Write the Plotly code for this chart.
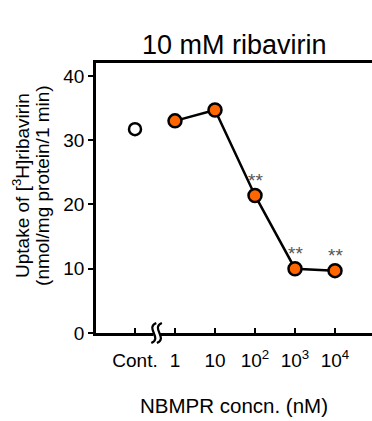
import plotly.graph_objects as go

categories = ["Cont.", "1", "10", "10<sup>2</sup>", "10<sup>3</sup>", "10<sup>4</sup>"]
control_value = [31.7]
nbmpr_values = [33.0, 34.7, 21.4, 10.0, 9.7]
significance = ["", "", "**", "**", "**"]
y_title_lines = ["Uptake of [<sup>3</sup>H]ribavirin", "(nmol/mg protein/1 min)"]

xpos_ctrl = [0]
xpos = [1, 2, 3, 4, 5]

FONT = "Liberation Sans, Arial, sans-serif"

fig = go.Figure()
fig.add_trace(go.Scatter(
    x=xpos_ctrl, y=control_value, mode="markers",
    marker=dict(size=12, color="white", line=dict(color="black", width=2.5)),
    showlegend=False, cliponaxis=False))
fig.add_trace(go.Scatter(
    x=xpos, y=nbmpr_values, mode="lines+markers",
    line=dict(color="black", width=2.5),
    marker=dict(size=13, color="#FF6600", line=dict(color="black", width=2.5)),
    showlegend=False, cliponaxis=False))

for x, y, s in zip(xpos, nbmpr_values, significance):
    if s:
        fig.add_annotation(x=x, y=y, text=s, showarrow=False, yshift=15,
                           font=dict(size=19, color="#555555", family=FONT))

# y-axis title as two rotated lines (tighter line spacing like reference)
for xp, line in zip([-0.272, -0.196], y_title_lines):
    fig.add_annotation(xref="paper", yref="paper", x=xp, y=0.548, text=line,
                       textangle=-90, showarrow=False, xanchor="center", yanchor="middle",
                       font=dict(size=19, family=FONT, color="black"))

# axis break symbol (two slanted S curves)
PXX = 1 / 40.0   # data units per pixel along x
PXY = 1 / 270.0  # paper units per pixel along y
bx = 0.54
fig.add_shape(type="rect", xref="x", yref="paper", x0=bx - 3 * PXX, x1=bx + 3 * PXX,
              y0=-3 * PXY, y1=3 * PXY, fillcolor="white", line=dict(width=0), layer="above")
for cpx in (-2.8, 2.8):
    cx = bx + cpx * PXX
    p0 = (cx - 2.5 * PXX, -10 * PXY)
    c1 = (cx + 9.0 * PXX, -5 * PXY)
    c2 = (cx - 9.0 * PXX, 5 * PXY)
    p1 = (cx + 2.5 * PXX, 10 * PXY)
    fig.add_shape(type="path", xref="x", yref="paper", layer="above",
                  path=f"M {p0[0]},{p0[1]} C {c1[0]},{c1[1]} {c2[0]},{c2[1]} {p1[0]},{p1[1]}",
                  line=dict(color="black", width=2.2))

fig.update_layout(
    width=372, height=421,
    margin=dict(l=96, r=0, t=63, b=88),
    plot_bgcolor="white", paper_bgcolor="white",
    font=dict(family=FONT, color="black"),
    title=dict(text="10 mM ribavirin", x=0.63, xanchor="center", y=0.895, yanchor="middle",
               font=dict(size=27, family=FONT, color="black")),
    xaxis=dict(range=[-0.975, 5.925], tickvals=list(range(6)), ticktext=categories,
               showline=True, linecolor="black", linewidth=2.5, mirror=True,
               ticks="inside", ticklen=5, tickwidth=2, tickcolor="black",
               showgrid=False, zeroline=False, ticklabelstandoff=8,
               tickfont=dict(size=19, family=FONT, color="black"),
               title=dict(text="NBMPR concn. (nM)", standoff=30,
                          font=dict(size=20.5, family=FONT, color="black"))),
    yaxis=dict(range=[0, 42], tickvals=[0, 10, 20, 30, 40],
               showline=True, linecolor="black", linewidth=2.5,
               ticks="outside", ticklen=5, tickwidth=2, tickcolor="black",
               showgrid=False, zeroline=False,
               tickfont=dict(size=19, family=FONT, color="black")),
)

fig.write_html("out.html", config={"displayModeBar": False},
               post_script="document.body.style.margin='0px';")
